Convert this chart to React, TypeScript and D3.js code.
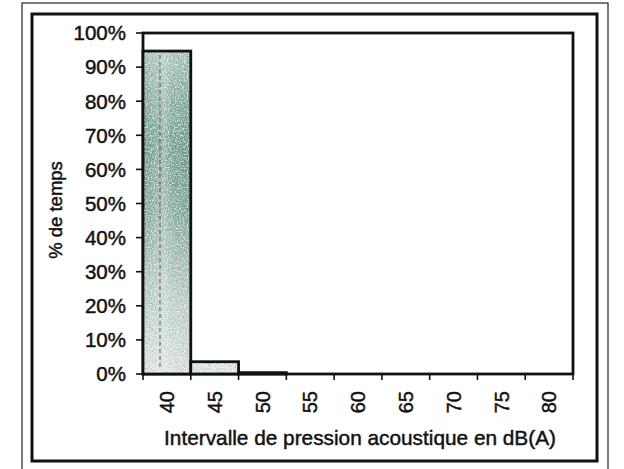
import * as d3 from 'd3';

const categories = ['40', '45', '50', '55', '60', '65', '70', '75', '80'];
const values = [0.947, 0.036, 0.004, 0, 0, 0, 0, 0, 0];
const yTicks = [0, 0.1, 0.2, 0.3, 0.4, 0.5, 0.6, 0.7, 0.8, 0.9, 1];

const W = 624, H = 469;
const PLOT = { left: 143, right: 573, top: 33, bottom: 374 };
const FONT = '"Liberation Sans", Arial, sans-serif';
const INK = '#111';

export default function App() {
  const x = d3.scaleBand().domain(categories).range([PLOT.left, PLOT.right]).padding(0);
  const y = d3.scaleLinear().domain([0, 1]).range([PLOT.bottom, PLOT.top]);
  const fmt = d3.format('.0%');

  // band edges for x ticks
  const edges = [...categories.map(c => x(c) ?? 0), PLOT.right];

  // scanned text looks a bit heavier than plain regular
  const txt = { fontFamily: FONT, fill: INK, stroke: INK, strokeWidth: 0.45 };

  return (
    <svg width={W} height={H} style={{ position: 'absolute', left: 0, top: 0, background: '#fff' }}>
      <defs>
        <linearGradient id="barFill" x1="0" y1="0" x2="0" y2="1">
          <stop offset="0" stopColor="#a3c1b5" />
          <stop offset="0.15" stopColor="#7aa595" />
          <stop offset="0.3" stopColor="#5e9280" />
          <stop offset="0.5" stopColor="#79a293" />
          <stop offset="0.72" stopColor="#b3c7bf" />
          <stop offset="1" stopColor="#dfe6e3" />
        </linearGradient>
        <linearGradient id="stripe" x1="0" y1="0" x2="1" y2="0">
          <stop offset="0" stopColor="#fff" stopOpacity="0" />
          <stop offset="0.45" stopColor="#fff" stopOpacity="0.28" />
          <stop offset="0.6" stopColor="#fff" stopOpacity="0.1" />
          <stop offset="1" stopColor="#fff" stopOpacity="0" />
        </linearGradient>
        <filter id="grain" x="0" y="0" width="1" height="1">
          <feTurbulence type="fractalNoise" baseFrequency="0.85" numOctaves="2" seed="3" result="n" />
          <feColorMatrix in="n" type="matrix"
            values="0 0 0 0 0.2  0 0 0 0 0.35  0 0 0 0 0.3  0 0 0 2.2 -1.0" result="dark" />
          <feComposite in="dark" in2="SourceGraphic" operator="in" result="dark2" />
          <feTurbulence type="fractalNoise" baseFrequency="0.7" numOctaves="2" seed="11" result="m" />
          <feColorMatrix in="m" type="matrix"
            values="0 0 0 0 1  0 0 0 0 1  0 0 0 0 1  0 0 0 2.2 -1.0" result="light" />
          <feComposite in="light" in2="SourceGraphic" operator="in" result="light2" />
          <feMerge>
            <feMergeNode in="SourceGraphic" />
            <feMergeNode in="dark2" />
            <feMergeNode in="light2" />
          </feMerge>
        </filter>
      </defs>

      {/* outer frames */}
      <rect x={22} y={3} width={586} height={470} fill="none" stroke="#222" strokeWidth={1.2} />
      <rect x={32} y={14} width={565} height={447} fill="none" stroke={INK} strokeWidth={3} />

      {/* plot frame */}
      <rect x={PLOT.left} y={PLOT.top} width={PLOT.right - PLOT.left} height={PLOT.bottom - PLOT.top}
        fill="none" stroke={INK} strokeWidth={2.8} />

      {/* bars */}
      {categories.map((c, i) => {
        const v = values[i];
        if (v <= 0) return null;
        const bx = x(c) ?? 0;
        const by = y(v);
        const bh = PLOT.bottom - by;
        return (
          <g key={c}>
            <rect x={bx} y={by} width={x.bandwidth()} height={bh}
              fill={i === 0 ? 'url(#barFill)' : '#e4eae7'} filter="url(#grain)" />
            {i === 0 && (
              <>
                <rect x={bx} y={by} width={x.bandwidth()} height={bh} fill="url(#stripe)" />
                <line x1={bx + 17} x2={bx + 17} y1={by + 4} y2={PLOT.bottom - 4}
                  stroke="#4a5a55" strokeWidth={1} strokeDasharray="4,3" />
              </>
            )}
            <rect x={bx} y={by} width={x.bandwidth()} height={bh}
              fill="none" stroke={INK} strokeWidth={2.8} />
          </g>
        );
      })}

      {/* y axis ticks and labels */}
      {yTicks.map(t => (
        <g key={t}>
          <line x1={PLOT.left - 7} x2={PLOT.left} y1={y(t)} y2={y(t)} stroke={INK} strokeWidth={1.6} />
          <text x={PLOT.left - 17} y={y(t)} dy="0.36em" textAnchor="end" fontSize={20.5} {...txt}>{fmt(t)}</text>
        </g>
      ))}

      {/* x axis ticks */}
      {edges.map((e, i) => (
        <line key={i} x1={e} x2={e} y1={PLOT.bottom} y2={PLOT.bottom + 6} stroke={INK} strokeWidth={1.6} />
      ))}

      {/* x labels, rotated */}
      {categories.map(c => {
        const cx = (x(c) ?? 0) + x.bandwidth() / 2;
        const cy = PLOT.bottom + 17;
        return (
          <text key={c} transform={`translate(${cx},${cy}) rotate(-90)`} textAnchor="end" dy="0.36em"
            fontSize={20} {...txt}>{c}</text>
        );
      })}

      {/* axis titles */}
      <text x={(PLOT.left + PLOT.right) / 2 + 2} y={445} textAnchor="middle" fontSize={20.8} {...txt}>
        Intervalle de pression acoustique en dB(A)
      </text>
      <text transform={`translate(62,210) rotate(-90)`} textAnchor="middle" fontSize={18.5} {...txt}>
        % de temps
      </text>
    </svg>
  );
}
